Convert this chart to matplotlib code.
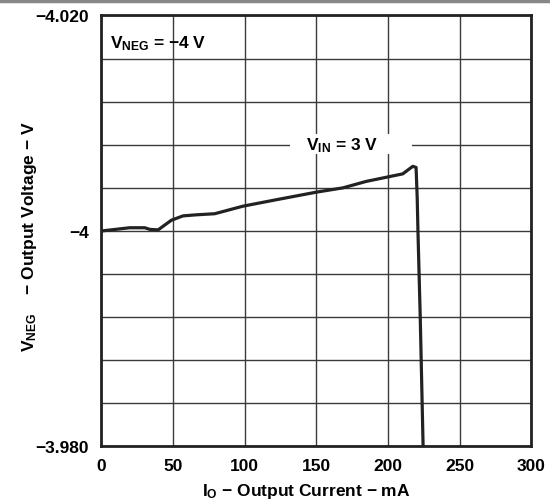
import matplotlib
matplotlib.use("Agg")
import matplotlib.pyplot as plt
from matplotlib.lines import Line2D
from matplotlib.patches import Rectangle
from matplotlib.ticker import FixedLocator, NullFormatter

plt.rcParams['font.family'] = ['Liberation Sans', 'DejaVu Sans']
plt.rcParams['font.weight'] = 'bold'
plt.rcParams['mathtext.fontset'] = 'custom'
plt.rcParams['mathtext.rm'] = 'Liberation Sans:bold'
plt.rcParams['mathtext.it'] = 'Liberation Sans:bold'
plt.rcParams['mathtext.bf'] = 'Liberation Sans:bold'

M = '\u2212'

# Data
current_ma = [0, 19.7, 30.2, 33.7, 39.5, 48.8, 56.9, 66.2, 79.0, 98.7, 122.0,
              149.8, 168.4, 184.7, 210.2, 217.2, 219.5, 220.3, 220.8, 222.4, 224.4]
v_neg = [-4.0000, -4.0003, -4.0003, -4.00015, -4.0001, -4.0010, -4.0014, -4.0015,
         -4.0016, -4.0023, -4.0029, -4.0036, -4.0040, -4.0046, -4.0053, -4.0060,
         -4.0059, -4.0030, -4.0000, -3.9920, -3.9800]

x_ticks = [0, 50, 100, 150, 200, 250, 300]
x_tick_labels = ['0', '50', '100', '150', '200', '250', '300']
y_grid = [-3.980 - 0.004 * i for i in range(11)]
y_label_ticks = [-4.020, -4.000, -3.980]
y_tick_labels = [M + '4.020', M + '4', M + '3.980']

FS = 12.5
GRID_C = '#3a3a3a'

fig = plt.figure(figsize=(5.5, 5.02), dpi=100)
ax = fig.add_axes([0.1845, 0.1086, 0.7818, 0.8586])

ax.plot(current_ma, v_neg, color='#222222', lw=2.3, solid_joinstyle='round',
        solid_capstyle='butt', zorder=3)

ax.set_xlim(0, 300)
ax.set_ylim(-3.980, -4.020)

ax.set_xticks(x_ticks)
ax.set_xticklabels(x_tick_labels)
ax.set_yticks(y_label_ticks)
ax.set_yticklabels(y_tick_labels)
ax.yaxis.set_minor_locator(FixedLocator(y_grid))
ax.yaxis.set_minor_formatter(NullFormatter())
ax.set_axisbelow(True)
ax.grid(True, which='both', axis='both', color=GRID_C, lw=1.0)
ax.tick_params(which='both', length=0, labelsize=FS)
ax.tick_params(axis='x', pad=8)
ax.tick_params(axis='y', pad=9)
for lbl in ax.get_xticklabels() + ax.get_yticklabels():
    lbl.set_fontweight('bold')

for s in ax.spines.values():
    s.set_linewidth(2.0)
    s.set_color('#222222')
    s.set_zorder(5)

ax.set_xlabel(r'$\mathrm{I_O}$ ' + M + ' Output Current ' + M + ' mA',
              fontsize=FS, fontweight='bold')
ax.xaxis.set_label_coords(0.4756, -0.079)
ax.set_ylabel(r'$\mathrm{V_{NEG}}$    ' + M + ' Output Voltage ' + M + ' V',
              fontsize=FS, fontweight='bold')
ax.yaxis.set_label_coords(-0.146, 0.488)

ax.text(5.9, -4.0175, r'$\mathrm{V_{NEG}}$ = ' + M + '4 V',
        fontsize=FS, fontweight='bold', ha='left', va='center', zorder=4)

# white label backing box (covers the grid behind the V_IN label)
ax.add_patch(Rectangle((131.4, -4.0090), 85.0, 0.00185, facecolor='white',
                       edgecolor='none', zorder=2))
ax.text(167.6, -4.008, r'$\mathrm{V_{IN}}$ = 3 V', fontsize=FS, fontweight='bold',
        ha='center', va='center', zorder=4)

fig.add_artist(Line2D([0, 1], [0.997, 0.997], transform=fig.transFigure,
                      color='#888888', lw=2.5))

fig.savefig('out.png', dpi=100)
